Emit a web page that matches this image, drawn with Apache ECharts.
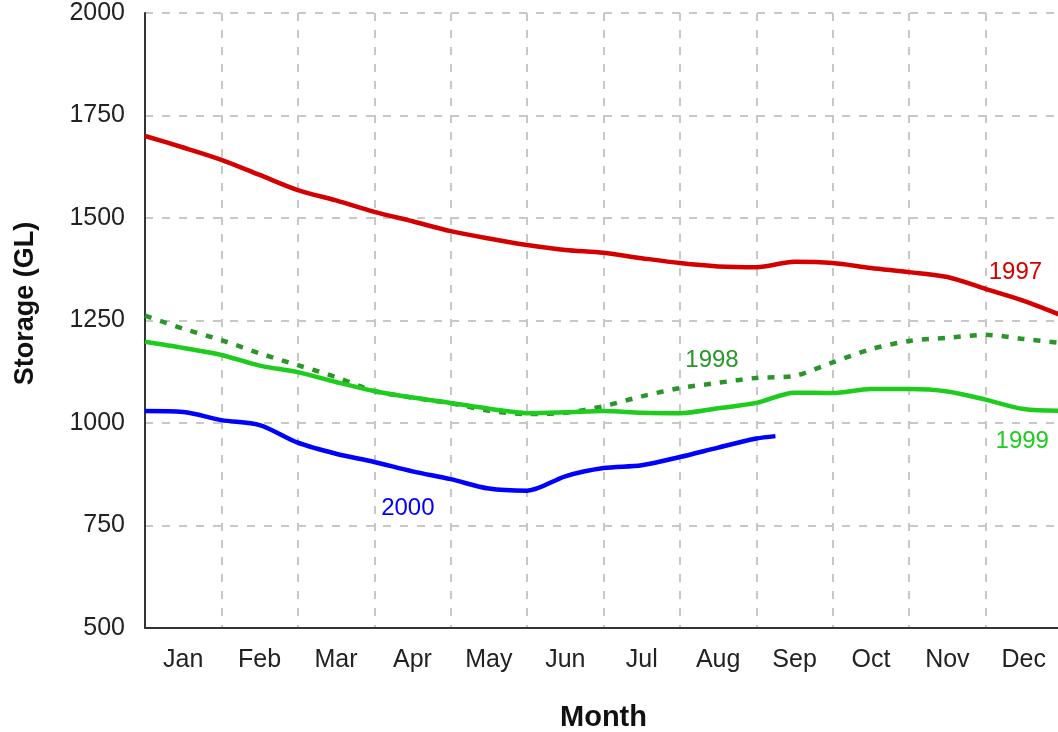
<!DOCTYPE html>
<html>
<head>
<meta charset="utf-8">
<script src="https://cdn.jsdelivr.net/npm/echarts@6/dist/echarts.min.js"></script>
<style>
  html, body { margin: 0; padding: 0; background: #fff; }
  #main { width: 1058px; height: 732px; }
</style>
</head>
<body>
<div id="main"></div>
<script>
// month names on the axis
const months = ['Jan', 'Feb', 'Mar', 'Apr', 'May', 'Jun', 'Jul', 'Aug', 'Sep', 'Oct', 'Nov', 'Dec'];

// sample positions, in months from 1 Jan
const xPos = [0, 0.5, 1, 1.5, 2, 2.5, 3, 3.5, 4, 4.5, 5, 5.5, 6, 6.5, 7, 7.5, 8, 8.5, 9, 9.5, 10, 10.5, 11, 11.5, 12];
const xPos2000 = [0, 0.5, 1, 1.5, 2, 2.5, 3, 3.5, 4, 4.5, 5, 5.5, 6, 6.5, 7, 7.5, 8, 8.25];

// storage (GL)
const y1997 = [1700, 1672, 1642, 1605, 1568, 1543, 1515, 1492, 1468, 1450, 1434, 1422, 1415, 1402, 1390, 1382, 1380, 1393, 1390, 1378, 1368, 1356, 1327, 1298, 1262];
const y1998 = [1262, 1230, 1202, 1170, 1141, 1112, 1078, 1062, 1048, 1030, 1022, 1025, 1041, 1065, 1085, 1098, 1110, 1115, 1148, 1180, 1200, 1208, 1215, 1205, 1195];
const y1999 = [1198, 1183, 1166, 1140, 1124, 1100, 1078, 1062, 1049, 1035, 1024, 1026, 1029, 1025, 1024, 1036, 1049, 1074, 1073, 1083, 1083, 1077, 1057, 1034, 1030];
const y2000 = [1029, 1027, 1007, 995, 952, 925, 905, 882, 863, 840, 835, 870, 890, 897, 917, 940, 962, 968];

const pairs = (xs, ys) => ys.map((v, i) => [xs[i], v]);

const font = '"Liberation Sans", Arial, sans-serif';

function yearSeries(name, xs, ys, color, lineType, labelAt) {
  return {
    name: name,
    type: 'line',
    xAxisIndex: 0,
    data: pairs(xs, ys),
    smooth: 0.3,
    showSymbol: false,
    lineStyle: { color: color, width: 4.5, type: lineType, cap: 'butt' },
    markPoint: {
      symbol: 'circle',
      symbolSize: 0,
      silent: true,
      label: {
        show: true,
        position: 'inside',
        formatter: name,
        color: color,
        fontSize: 24,
        fontFamily: font
      },
      data: [{ coord: labelAt }]
    }
  };
}

const chart = echarts.init(document.getElementById('main'));
chart.setOption({
  animation: false,
  grid: { left: 145, top: 13, right: -4, bottom: 104, outerBoundsMode: 'none' },
  xAxis: [{
    type: 'value',
    min: 0,
    max: 12,
    interval: 1,
    name: 'Month',
    nameLocation: 'middle',
    nameGap: 75,
    nameTextStyle: { fontSize: 29, fontWeight: 'bold', color: '#111', fontFamily: font },
    axisLine: { show: true, onZero: false, lineStyle: { color: '#333', width: 2 } },
    axisTick: { show: false },
    axisLabel: { show: false },
    splitLine: { show: true, lineStyle: { color: '#c8c8c8', width: 2, type: [8, 9] } }
  }, {
    type: 'category',
    position: 'bottom',
    data: months,
    boundaryGap: true,
    axisLine: { show: false },
    axisTick: { show: false },
    splitLine: { show: false },
    axisLabel: { margin: 20, fontSize: 25, color: '#222', fontFamily: font }
  }],
  yAxis: {
    type: 'value',
    min: 500,
    max: 2000,
    interval: 250,
    name: 'Storage (GL)',
    nameLocation: 'middle',
    nameGap: 106,
    nameTextStyle: { fontSize: 27, fontWeight: 'bold', color: '#111', fontFamily: font, padding: [0, 0, 0, 34] },
    axisLine: { show: true, lineStyle: { color: '#333', width: 2 } },
    axisTick: { show: false },
    axisLabel: { margin: 20, fontSize: 25, color: '#222', fontFamily: font, formatter: (v) => String(v) },
    splitLine: { show: true, lineStyle: { color: '#c8c8c8', width: 2, type: [8, 9] } }
  },
  series: [
    yearSeries('1997', xPos, y1997, '#d40000', 'solid', [11.39, 1368]),
    yearSeries('1998', xPos, y1998, '#2a962a', [7, 9], [7.42, 1152]),
    yearSeries('1999', xPos, y1999, '#1ecc1e', 'solid', [11.48, 954]),
    yearSeries('2000', xPos2000, y2000, '#0000ff', 'solid', [3.44, 792])
  ]
});
</script>
</body>
</html>
